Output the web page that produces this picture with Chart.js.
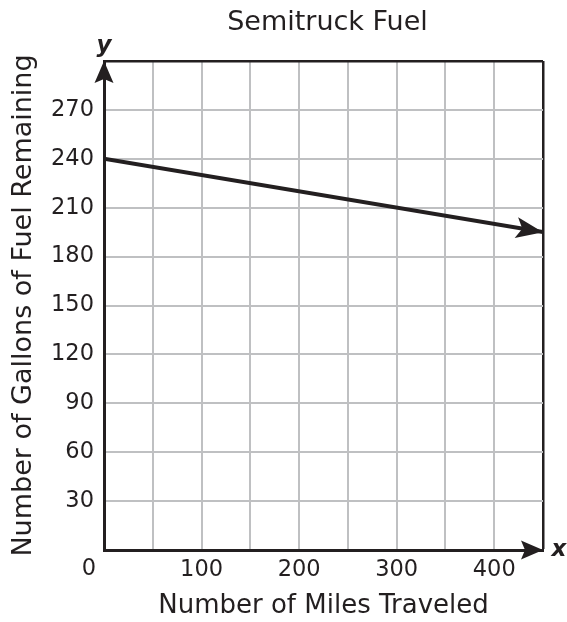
<!DOCTYPE html>
<html>
<head>
<meta charset="utf-8">
<script src="https://cdn.jsdelivr.net/npm/chart.js@4"></script>
<style>
  html, body { margin: 0; padding: 0; background: #fff; }
  canvas { display: block; }
</style>
</head>
<body>
<canvas id="fuelChart" width="567" height="622"></canvas>
<script>
// data
const milesTraveled = [0, 450];
const gallonsLeft = [240, 195];
const xTickLabels = [100, 200, 300, 400];
const yTickLabels = [30, 60, 90, 120, 150, 180, 210, 240, 270];

const ink = '#231f20';
const gridGray = '#bfc0c2';
const fontFamily = "'DejaVu Sans', Verdana, sans-serif";

function arrowHead(ctx, x, y, angle, len, half, notch) {
  const dx = Math.cos(angle), dy = Math.sin(angle);
  const px = -dy, py = dx;
  ctx.beginPath();
  ctx.moveTo(x, y);
  ctx.lineTo(x - len * dx + half * px, y - len * dy + half * py);
  ctx.lineTo(x - (len - notch) * dx, y - (len - notch) * dy);
  ctx.lineTo(x - len * dx - half * px, y - len * dy - half * py);
  ctx.closePath();
  ctx.fill();
}

const decorPlugin = {
  id: 'decor',
  afterDatasetsDraw(chart) {
    const ctx = chart.ctx;
    const xs = chart.scales.x, ys = chart.scales.y;
    const area = chart.chartArea;
    ctx.save();
    ctx.fillStyle = ink;
    // axis arrows
    arrowHead(ctx, xs.getPixelForValue(0), area.top, -Math.PI / 2, 22, 9.5, 4);
    arrowHead(ctx, area.right, ys.getPixelForValue(0), 0, 22, 9.5, 4);
    // line arrow
    const n = milesTraveled.length;
    const x1 = xs.getPixelForValue(milesTraveled[n - 2]), y1 = ys.getPixelForValue(gallonsLeft[n - 2]);
    const x2 = xs.getPixelForValue(milesTraveled[n - 1]), y2 = ys.getPixelForValue(gallonsLeft[n - 1]);
    arrowHead(ctx, x2, y2, Math.atan2(y2 - y1, x2 - x1), 27, 10.5, 6);

    // title and axis letters
    ctx.textAlign = 'center';
    ctx.textBaseline = 'middle';
    ctx.font = '27px ' + fontFamily;
    ctx.fillText('Semitruck Fuel', (area.left + area.right) / 2 + 4, 23);
    ctx.font = '22.5px ' + fontFamily;
    ctx.fillText('0', area.left - 15, ys.bottom + 19);
    ctx.font = 'italic bold 23px ' + fontFamily;
    ctx.fillText('y', area.left, 46);
    ctx.fillText('x', area.right + 16, ys.getPixelForValue(0));
    ctx.restore();
  }
};

const ctx = document.getElementById('fuelChart').getContext('2d');
new Chart(ctx, {
  type: 'line',
  data: {
    datasets: [
      {
        data: milesTraveled.map((m, i) => ({ x: m, y: gallonsLeft[i] })),
        borderColor: ink,
        borderWidth: 4,
        pointRadius: 0,
        fill: false,
        tension: 0,
      },
    ],
  },
  options: {
    responsive: false,
    animation: false,
    layout: {
      padding: { top: 61, right: 24, left: 0, bottom: 0 },
    },
    plugins: {
      legend: { display: false },
      tooltip: { enabled: false },
      title: { display: false },
    },
    scales: {
      x: {
        type: 'linear',
        min: 0,
        max: 450,
        afterFit: (s) => { s.height = 72; },
        ticks: {
          stepSize: 50,
          padding: 7,
          maxRotation: 0,
          autoSkip: false,
          color: ink,
          font: { family: fontFamily, size: 22.5 },
          callback: (v) => (xTickLabels.includes(v) ? String(v) : ''),
        },
        grid: {
          drawTicks: false,
          color: (c) => (c.tick && c.tick.value === 450 ? ink : gridGray),
          lineWidth: (c) => (c.tick && c.tick.value === 450 ? 2.5 : 2),
        },
        border: { display: true, color: ink, width: 3 },
        title: {
          display: true,
          text: 'Number of Miles Traveled',
          color: ink,
          font: { family: fontFamily, size: 26 },
          padding: { top: 0, bottom: 0 },
        },
      },
      y: {
        type: 'linear',
        min: 0,
        max: 300,
        afterFit: (s) => { s.width = 104; },
        ticks: {
          stepSize: 30,
          padding: 10,
          autoSkip: false,
          color: ink,
          font: { family: fontFamily, size: 22.5 },
          callback: (v) => (yTickLabels.includes(v) ? String(v) : ''),
        },
        grid: {
          drawTicks: false,
          color: (c) => (c.tick && c.tick.value === 300 ? ink : gridGray),
          lineWidth: (c) => (c.tick && c.tick.value === 300 ? 2.5 : 2),
        },
        border: { display: true, color: ink, width: 3 },
        title: {
          display: true,
          text: 'Number of Gallons of Fuel Remaining',
          color: ink,
          font: { family: fontFamily, size: 27 },
          padding: { top: 8, bottom: 0 },
        },
      },
    },
  },
  plugins: [decorPlugin],
});
</script>
</body>
</html>
